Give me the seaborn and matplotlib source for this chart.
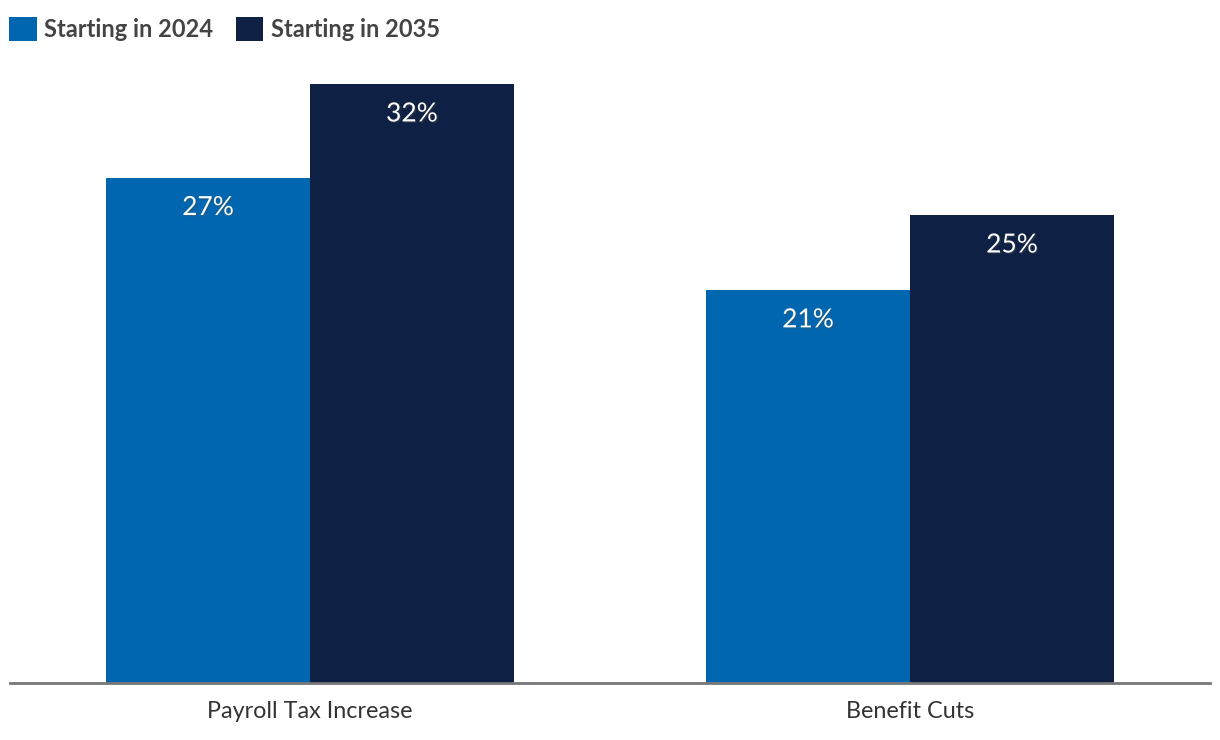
import matplotlib
matplotlib.use("Agg")
import matplotlib.pyplot as plt
import matplotlib.patheffects as pe
import seaborn as sns
import pandas as pd

categories = ["Payroll Tax Increase", "Benefit Cuts"]
series_names = ["Starting in 2024", "Starting in 2035"]
values_2024 = [27, 21]
values_2035 = [32, 25]
colors = ["#0066B0", "#0E2144"]

df = pd.DataFrame({
    "category": categories * 2,
    "series": [series_names[0]] * 2 + [series_names[1]] * 2,
    "value": values_2024 + values_2035,
})

sns.set_theme(style="white")
plt.rcParams["font.family"] = ["Lato", "DejaVu Sans"]

fig = plt.figure(figsize=(12.2, 7.4), dpi=100)
ax = fig.add_axes([10 / 1220, 57 / 740, 1200 / 1220, 623 / 740])

sns.barplot(data=df, x="category", y="value", hue="series", order=categories,
            hue_order=series_names, palette=colors, width=0.68, saturation=1,
            linewidth=0, edgecolor="none", ax=ax, legend=True)

ax.set_xlim(-0.5, 1.5)
ax.set_ylim(0, 623 / 18.72)
ax.set_xlabel("")
ax.set_ylabel("")
ax.set_yticks([])
for s in ["top", "right", "left"]:
    ax.spines[s].set_visible(False)
ax.spines["bottom"].set_color("#777777")
ax.spines["bottom"].set_linewidth(2)
ax.tick_params(axis="x", length=0, pad=13, labelsize=16.8, labelcolor="#333333")

for container in ax.containers:
    for bar in container:
        h = bar.get_height()
        ax.annotate(f"{h:.0f}%", (bar.get_x() + bar.get_width() / 2, h),
                    xytext=(0, -30), textcoords="offset pixels",
                    ha="center", va="center", fontsize=19, color="white",
                    path_effects=[pe.withSimplePatchShadow(offset=(1, -1), alpha=0.35)])

handles, labels = ax.get_legend_handles_labels()
ax.get_legend().remove()
leg = fig.legend(handles, labels, loc="upper left", bbox_to_anchor=(0 / 1220, 1 - 8 / 740),
                 ncol=2, frameon=False, handlelength=1.15, handleheight=1.15,
                 handletextpad=0.3, columnspacing=1.0, borderaxespad=0,
                 prop={"family": ["Lato", "DejaVu Sans"], "weight": "bold", "size": 17})
for t in leg.get_texts():
    t.set_color("#444444")

fig.savefig("out.png", dpi=100)
